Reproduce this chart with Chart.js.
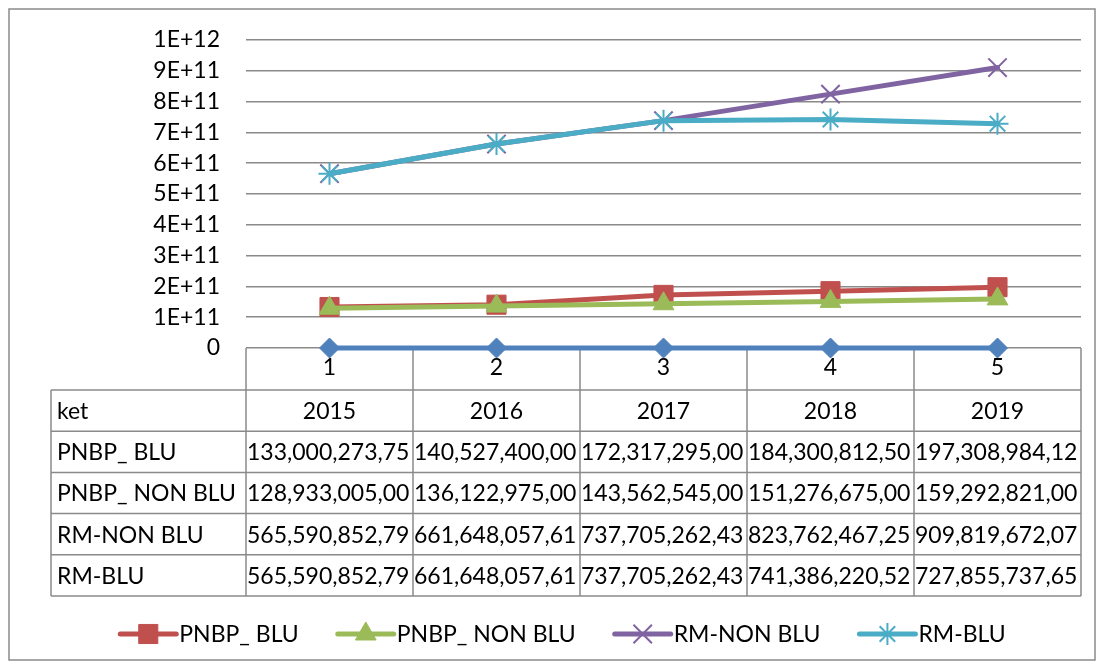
<!DOCTYPE html>
<html>
<head>
<meta charset="utf-8">
<script src="https://cdn.jsdelivr.net/npm/chart.js@4.4.0/dist/chart.umd.min.js"></script>
<style>
  html, body { margin: 0; padding: 0; background: #fff; }
</style>
</head>
<body>
<canvas id="myChart" width="1104" height="668"></canvas>
<script>
// data
const categories = ['1', '2', '3', '4', '5'];
const years = [2015, 2016, 2017, 2018, 2019];
const pnbpBlu = [133000273750, 140527400000, 172317295000, 184300812500, 197308984125];
const pnbpNonBlu = [128933005000, 136122975000, 143562545000, 151276675000, 159292821000];
const rmNonBlu = [565590852790, 661648057610, 737705262430, 823762467250, 909819672070];
const rmBlu = [565590852790, 661648057610, 737705262430, 741386220520, 727855737650];
const yTicks = { min: 0, max: 1e12, step: 1e11 };

const FONT = '23px Lato';
const LINE_GRAY = '#8a8a8a';

Chart.defaults.font.family = 'Lato';
Chart.defaults.font.size = 23;
Chart.defaults.color = '#000';

function sciLabel(v) {
  if (v === 0) return '0';
  const exp = Math.floor(Math.log10(v) + 1e-9);
  const m = Math.round(v / Math.pow(10, exp));
  return m + 'E+' + exp;
}

function series(label, data, color, pointStyle, radius, pbw, order, inLegend) {
  return {
    label: label,
    data: data,
    borderColor: color,
    backgroundColor: color,
    pointBackgroundColor: color,
    pointBorderColor: color,
    pointStyle: pointStyle,
    pointRadius: radius,
    pointBorderWidth: pbw,
    borderWidth: 5,
    borderCapStyle: 'round',
    borderJoinStyle: 'round',
    tension: 0,
    clip: false,
    order: order,
    inLegend: inLegend
  };
}

const datasets = [
  series('ket', years, '#4F81BD', 'rectRot', 10, 1, 5, false),
  series('PNBP_ BLU', pnbpBlu, '#C0504D', 'rect', 13.5, 1, 4, true),
  series('PNBP_ NON BLU', pnbpNonBlu, '#9BBB59', 'triangle', 12, 1, 3, true),
  series('RM-NON BLU', rmNonBlu, '#8064A2', 'crossRot', 13, 2, 2, true),
  series('RM-BLU', rmBlu, '#4BACC6', 'star', 11, 2, 1, true)
];

function fitText(ctx, text, maxW) {
  if (ctx.measureText(text).width <= maxW) return { text: text, fits: true };
  let t = text;
  while (t.length > 1 && ctx.measureText(t).width > maxW) t = t.slice(0, -1);
  return { text: t, fits: false };
}

const tablePlugin = {
  id: 'tablePlugin',
  beforeDraw(chart) {
    const ctx = chart.ctx;
    ctx.save();
    ctx.fillStyle = '#fff';
    ctx.fillRect(0, 0, chart.width, chart.height);
    ctx.strokeStyle = LINE_GRAY;
    ctx.lineWidth = 1.5;
    ctx.strokeRect(9, 9, 1086, 651);
    ctx.restore();
  },
  beforeDatasetsDraw(chart) {
    const ctx = chart.ctx;
    const x = chart.scales.x;
    const area = chart.chartArea;
    const colW = x.getPixelForValue(1) - x.getPixelForValue(0);
    const left = 51;
    const top = 390;
    const bottom = x.bottom;
    const rows = chart.data.datasets;
    const rowH = (bottom - top) / rows.length;

    ctx.save();
    ctx.strokeStyle = LINE_GRAY;
    ctx.lineWidth = 1.5;
    ctx.beginPath();
    // column lines
    for (let i = 0; i <= categories.length; i++) {
      const cx = area.left + i * colW;
      ctx.moveTo(cx, area.bottom);
      ctx.lineTo(cx, bottom);
    }
    ctx.moveTo(left, top);
    ctx.lineTo(left, bottom);
    // row lines
    for (let r = 0; r <= rows.length; r++) {
      const ry = top + r * rowH;
      ctx.moveTo(left, ry);
      ctx.lineTo(area.right, ry);
    }
    ctx.stroke();

    ctx.font = FONT;
    ctx.fillStyle = '#000';
    ctx.textBaseline = 'middle';
    rows.forEach((ds, r) => {
      const cy = top + r * rowH + rowH / 2 + 1;
      ctx.textAlign = 'left';
      ctx.fillText(ds.label, left + 6, cy);
      ds.data.forEach((v, i) => {
        const cx0 = area.left + i * colW;
        const s = ds.label === 'ket' ? String(v) : v.toLocaleString('en-US');
        const f = fitText(ctx, s, colW - 1);
        if (f.fits) {
          ctx.textAlign = 'center';
          ctx.fillText(f.text, cx0 + colW / 2, cy);
        } else {
          ctx.textAlign = 'left';
          ctx.fillText(f.text, cx0 + 1, cy);
        }
      });
    });
    ctx.restore();
  },
  afterDraw(chart) {
    // legend: line + marker + label
    const ctx = chart.ctx;
    const items = chart.data.datasets.filter(d => d.inLegend);
    const lineLen = 56, gapTxt = 3, gapItem = 39, cy = 634, centerX = 563;
    ctx.save();
    ctx.font = FONT;
    const widths = items.map(d => lineLen + gapTxt + ctx.measureText(d.label).width);
    const total = widths.reduce((a, b) => a + b, 0) + gapItem * (items.length - 1);
    let xPos = centerX - total / 2;
    items.forEach((d, i) => {
      ctx.strokeStyle = d.borderColor;
      ctx.lineWidth = 5;
      ctx.lineCap = 'round';
      ctx.beginPath();
      ctx.moveTo(xPos, cy);
      ctx.lineTo(xPos + lineLen, cy);
      ctx.stroke();
      ctx.fillStyle = d.borderColor;
      ctx.lineWidth = d.pointBorderWidth;
      ctx.lineCap = 'butt';
      Chart.helpers.drawPoint(ctx, {
        pointStyle: d.pointStyle,
        radius: d.pointRadius,
        rotation: 0,
        borderWidth: d.pointBorderWidth
      }, xPos + lineLen / 2, cy);
      ctx.fillStyle = '#000';
      ctx.textAlign = 'left';
      ctx.textBaseline = 'middle';
      ctx.fillText(d.label, xPos + lineLen + gapTxt, cy + 1);
      xPos += widths[i] + gapItem;
    });
    ctx.restore();
  }
};

new Chart(document.getElementById('myChart'), {
  type: 'line',
  data: { labels: categories, datasets: datasets },
  options: {
    responsive: false,
    animation: false,
    layout: { padding: { top: 39, right: 23, bottom: 72, left: 0 } },
    plugins: { legend: { display: false }, tooltip: { enabled: false } },
    scales: {
      x: {
        offset: true,
        grid: { display: false, drawTicks: false },
        border: { display: false },
        ticks: { padding: 6, maxRotation: 0, autoSkip: false, color: '#000' },
        afterFit(scale) { scale.height = 248; }
      },
      y: {
        min: yTicks.min,
        max: yTicks.max,
        grid: { color: LINE_GRAY, lineWidth: 1.5, drawTicks: false },
        border: { display: false },
        ticks: { stepSize: yTicks.step, padding: 26, color: '#000', callback: v => sciLabel(v) },
        afterFit(scale) { scale.width = 246; }
      }
    }
  },
  plugins: [tablePlugin]
});
</script>
</body>
</html>
